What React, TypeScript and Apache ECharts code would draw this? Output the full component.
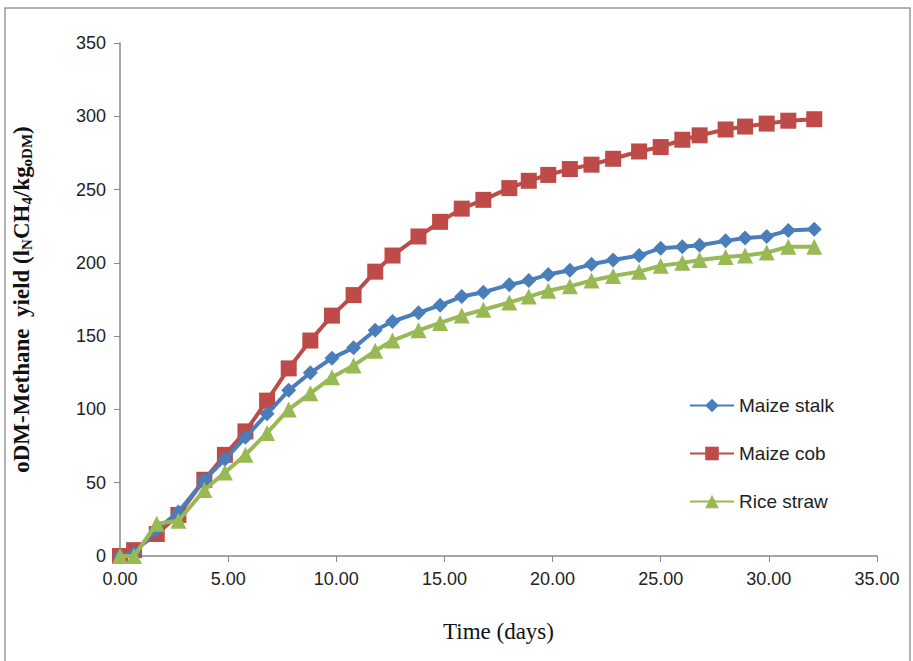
import React, { useEffect, useRef } from "react";
import * as echarts from "echarts";

const days = [0, 0.65, 1.7, 2.7, 3.9, 4.85, 5.8, 6.8, 7.8, 8.8, 9.8, 10.8, 11.8, 12.6, 13.8, 14.8, 15.8, 16.8, 18.0, 18.9, 19.8, 20.8, 21.8, 22.8, 24.0, 25.0, 26.0, 26.8, 28.0, 28.9, 29.9, 30.9, 32.1];
const maizeStalk = [0, 2, 18, 30, 52, 66, 81, 97, 113, 125, 135, 142, 154, 160, 166, 171, 177, 180, 185, 188, 192, 195, 199, 202, 205, 210, 211, 212, 215, 217, 218, 222, 223];
const maizeCob = [0, 4, 15, 28, 52, 69, 85, 106, 128, 147, 164, 178, 194, 205, 218, 228, 237, 243, 251, 256, 260, 264, 267, 271, 276, 279, 284, 287, 291, 293, 295, 297, 298];
const riceStraw = [0, 0, 22, 24, 45, 57, 69, 84, 100, 111, 122, 130, 140, 147, 154, 159, 164, 168, 173, 177, 181, 184, 188, 191, 194, 198, 200, 202, 204, 205, 207, 211, 211];
const seriesNames = ["Maize stalk", "Maize cob", "Rice straw"];

export default function App() {
  const ref = useRef<HTMLDivElement>(null);
  useEffect(() => {
    const chart = echarts.init(ref.current!, null, { renderer: "svg" });
    const mk = (vals: number[]) => days.map((d, i) => [d, vals[i]]);
    const colors = ["#4a7ebb", "#be4b48", "#98b954"];
    const symbols = ["diamond", "rect", "triangle"];
    const sizes = [15, 16, 16];
    const datas = [maizeStalk, maizeCob, riceStraw];
    chart.setOption({
      animation: false,
      backgroundColor: "#ffffff",
      graphic: [
        {
          type: "rect",
          shape: { x: 5, y: 8, width: 905, height: 660 },
          style: { fill: "none", stroke: "#999", lineWidth: 1.5 },
          silent: true,
        },
      ],
      grid: { left: 120, right: 36, top: 43, bottom: 105 },
      legend: {
        orient: "vertical",
        left: 684,
        top: 391,
        itemGap: 29,
        itemWidth: 44,
        itemHeight: 17,
        textStyle: { fontSize: 19, color: "#222", fontFamily: "Liberation Sans Narrow, Arial Narrow, sans-serif" },
        data: seriesNames,
      },
      xAxis: {
        type: "value",
        min: 0,
        max: 35,
        interval: 5,
        name: "Time (days)",
        nameLocation: "middle",
        nameGap: 64,
        nameTextStyle: { fontFamily: "Liberation Serif, serif", fontSize: 23, color: "#111" },
        axisLine: { show: true, lineStyle: { color: "#888", width: 1.5 } },
        axisTick: { show: true, inside: false, length: 6, lineStyle: { color: "#888" } },
        axisLabel: {
          formatter: (v: number) => v.toFixed(2),
          fontSize: 18,
          color: "#222",
          margin: 14,
          fontFamily: "Liberation Sans Narrow, Arial Narrow, sans-serif",
        },
        splitLine: { show: false },
      },
      yAxis: {
        type: "value",
        min: 0,
        max: 350,
        interval: 50,
        name: "{n|oDM-Methane  yield (l}{s|N}{n|CH}{s|4}{n|/kg}{s|oDM}{n|)}",
        nameLocation: "middle",
        nameGap: 86,
        nameRotate: 90,
        nameTextStyle: {
          rich: {
            n: { fontFamily: "Liberation Serif, serif", fontSize: 23, fontWeight: "bold", color: "#111" },
            s: { fontFamily: "Liberation Serif, serif", fontSize: 15, fontWeight: "bold", color: "#111", verticalAlign: "bottom", padding: [10, 0, 0, 0] },
          },
        },
        axisLine: { show: true, lineStyle: { color: "#888", width: 1.5 } },
        axisTick: { show: true, inside: false, length: 6, lineStyle: { color: "#888" } },
        axisLabel: {
          fontSize: 18,
          color: "#222",
          margin: 14,
          fontFamily: "Liberation Sans Narrow, Arial Narrow, sans-serif",
        },
        splitLine: { show: false },
      },
      series: seriesNames.map((name, i) => ({
        name,
        type: "line",
        data: mk(datas[i]),
        symbol: symbols[i],
        symbolSize: sizes[i],
        lineStyle: { color: colors[i], width: 4 },
        itemStyle: { color: colors[i] },
        z: i === 0 ? 3 : i === 1 ? 2 : 4,
      })),
    });
    return () => chart.dispose();
  }, []);
  return <div ref={ref} style={{ position: "absolute", left: 0, top: 0, width: 913, height: 661 }} />;
}
